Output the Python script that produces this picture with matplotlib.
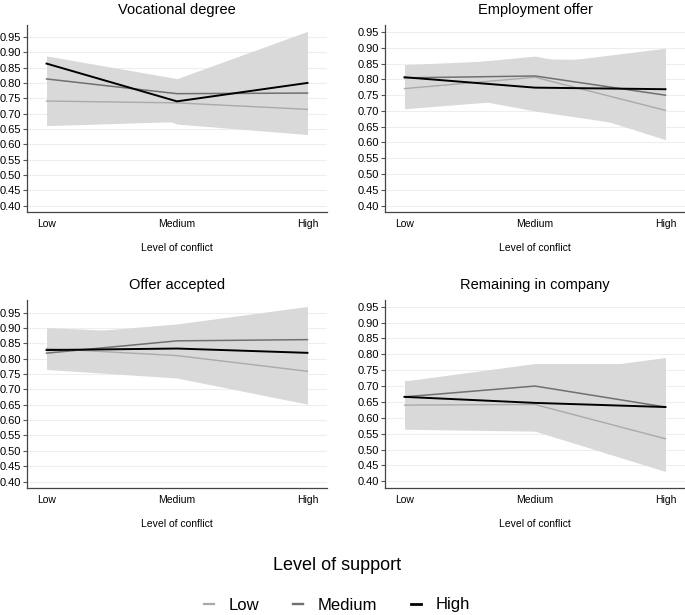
import matplotlib
matplotlib.use('Agg')
import matplotlib.pyplot as plt
from matplotlib.lines import Line2D

plt.rcParams['font.family'] = ['Liberation Sans', 'DejaVu Sans']

conflict = ['Low', 'Medium', 'High']
support = ['Low', 'Medium', 'High']
titles = ['Vocational degree', 'Employment offer', 'Offer accepted', 'Remaining in company']
yticks = [0.40, 0.45, 0.50, 0.55, 0.60, 0.65, 0.70, 0.75, 0.80, 0.85, 0.90, 0.95]

# predicted probabilities, one row per level of support (Low, Medium, High)
vocational = [[0.741, 0.735, 0.714], [0.813, 0.765, 0.767], [0.863, 0.740, 0.800]]
vocational_ci = [[0.080, 0.061, 0.080], [0.070, 0.045, 0.090], [0.025, 0.074, 0.168]]

employment = [[0.771, 0.807, 0.702], [0.805, 0.811, 0.750], [0.807, 0.774, 0.769]]
employment_ci = [[0.064, 0.067, 0.093], [0.042, 0.054, 0.112], [0.030, 0.074, 0.130]]

accepted = [[0.833, 0.810, 0.759], [0.818, 0.858, 0.862], [0.828, 0.833, 0.819]]
accepted_ci = [[0.068, 0.073, 0.107], [0.050, 0.050, 0.100], [0.050, 0.080, 0.151]]

remaining = [[0.640, 0.642, 0.534], [0.666, 0.700, 0.634], [0.666, 0.647, 0.634]]
remaining_ci = [[0.076, 0.084, 0.103], [0.050, 0.071, 0.137], [0.050, 0.088, 0.156]]

means = [vocational, employment, accepted, remaining]
cis = [vocational_ci, employment_ci, accepted_ci, remaining_ci]
ytop = [0.988, 0.972, 0.991, 0.971]

colors = ['#aaaaaa', '#707070', '#000000']
widths = [1.0, 1.1, 1.4]
band = '#d9d9d9'

fig = plt.figure(figsize=(6.85, 6.15), dpi=100)
boxes = [[0.0394, 0.655, 0.438, 0.304], [0.562, 0.655, 0.438, 0.304],
         [0.0394, 0.2065, 0.438, 0.3057], [0.562, 0.2065, 0.438, 0.3057]]

x = list(range(len(conflict)))
for i in range(4):
    ax = fig.add_axes(boxes[i])
    for s in range(3):
        m = means[i][s]
        c = cis[i][s]
        lo = [m[k] - c[k] for k in range(3)]
        hi = [m[k] + c[k] for k in range(3)]
        ax.fill_between(x, lo, hi, color=band, lw=0, zorder=1)
    for s in range(3):
        ax.plot(x, means[i][s], color=colors[s], lw=widths[s], zorder=3)
    ax.set_xlim(-0.15, 2.15)
    ax.set_ylim(0.379, ytop[i])
    ax.set_yticks(yticks)
    ax.set_yticklabels(['%.2f' % v for v in yticks])
    ax.set_xticks(x)
    ax.set_xticklabels(conflict)
    ax.yaxis.grid(True, color='#eeeeee', lw=0.8)
    ax.set_axisbelow(True)
    ax.tick_params(axis='y', labelsize=8, length=3, width=0.8, color='#555555', pad=1)
    ax.tick_params(axis='x', labelsize=7.5, length=0, pad=5)
    for side in ['top', 'right']:
        ax.spines[side].set_visible(False)
    for side in ['left', 'bottom']:
        ax.spines[side].set_color('#444444')
        ax.spines[side].set_linewidth(0.9)
    ax.set_xlabel('Level of conflict', fontsize=7.5, labelpad=10)
    ax.set_title(titles[i], fontsize=10.5, pad=8)

fig.text(337 / 685, 1 - 565 / 615, 'Level of support', ha='center', va='center', fontsize=13)
handles = [Line2D([0], [0], color=colors[s], lw=widths[s] + 0.6) for s in range(3)]
fig.legend(handles, support, loc='center', bbox_to_anchor=(337 / 685, 1 - 605 / 615),
           ncol=3, frameon=False, fontsize=12, handlelength=0.6, handletextpad=0.9,
           columnspacing=2.0)

fig.savefig('out.png', dpi=100)
